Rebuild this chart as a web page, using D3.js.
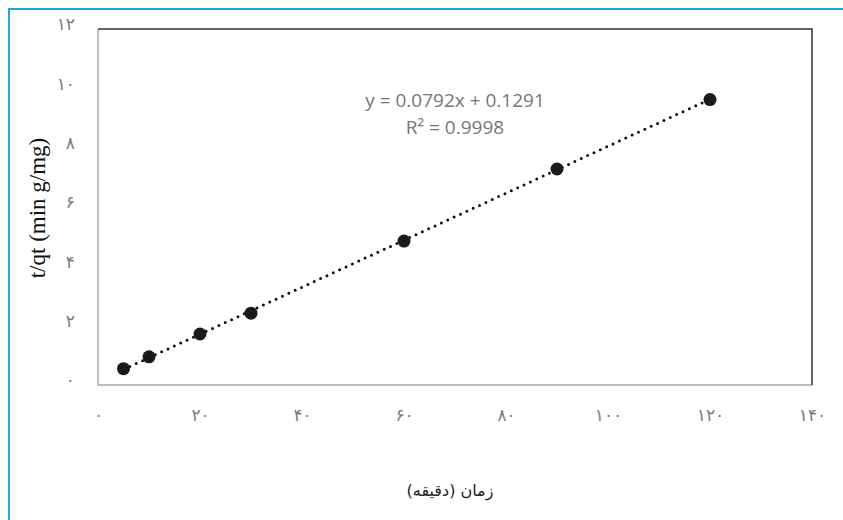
<!DOCTYPE html>
<html>
<head>
<meta charset="utf-8">
<script src="https://cdn.jsdelivr.net/npm/d3@7"></script>
<style>
  body { margin: 0; background: #fff; }
  svg { display: block; }
</style>
</head>
<body>
<svg width="843" height="520"></svg>
<script>
// time (min) and t/qt values
const times = [5, 10, 20, 30, 60, 90, 120];
const tq = [0.55, 0.95, 1.72, 2.42, 4.85, 7.28, 9.62];
const xTicks = [0, 20, 40, 60, 80, 100, 120, 140];
const yTicks = [0, 2, 4, 6, 8, 10, 12];
const slope = 0.0792, intercept = 0.1291;
const eqLines = ["y = 0.0792x + 0.1291", "R² = 0.9998"];

const faDigits = n => String(n).replace(/\d/g, d => "۰۱۲۳۴۵۶۷۸۹"[d]);

const svg = d3.select("svg");
const margin = {left: 98, top: 29, right: 31, bottom: 135};
const width = 843 - margin.left - margin.right;
const height = 520 - margin.top - margin.bottom;

// blue page frame
svg.append("path")
  .attr("d", "M9,520 V9 H843")
  .attr("fill", "none")
  .attr("stroke", "#1ba9e1")
  .attr("stroke-width", 2);

const chart = svg.append("g")
  .attr("transform", `translate(${margin.left},${margin.top})`);

const x = d3.scaleLinear().domain([0, 140]).range([0, width]);
const y = d3.scaleLinear().domain([0, 12]).range([height, 0]);

// plot box: light left/bottom, dark top/right
chart.append("path")
  .attr("d", `M0,0 V${height} H${width}`)
  .attr("fill", "none").attr("stroke", "#bdbdbd").attr("stroke-width", 2);
chart.append("path")
  .attr("d", `M0,0 H${width} V${height}`)
  .attr("fill", "none").attr("stroke", "#333").attr("stroke-width", 1.5);

const xAxis = chart.append("g")
  .attr("transform", `translate(0,${height})`)
  .call(d3.axisBottom(x).tickValues(xTicks).tickSize(0).tickPadding(24).tickFormat(faDigits));
xAxis.select(".domain").remove();
xAxis.selectAll(".tick text")
  .attr("font-family", "DejaVu Sans")
  .attr("font-size", 17)
  .attr("fill", "#7a7a7a");

const yAxis = chart.append("g")
  .call(d3.axisLeft(y).tickValues(yTicks).tickSize(0).tickPadding(23).tickFormat(faDigits));
yAxis.select(".domain").remove();
yAxis.selectAll(".tick text")
  .attr("font-family", "DejaVu Sans")
  .attr("font-size", 17)
  .attr("fill", "#7a7a7a")
  .attr("dy", "0.05em");

// trendline
const x0 = d3.min(times), x1 = d3.max(times);
chart.append("line")
  .attr("x1", x(x0)).attr("y1", y(slope * x0 + intercept))
  .attr("x2", x(x1)).attr("y2", y(slope * x1 + intercept))
  .attr("stroke", "#111")
  .attr("stroke-width", 3)
  .attr("stroke-linecap", "round")
  .attr("stroke-dasharray", "0 7");

chart.selectAll("circle")
  .data(times)
  .join("circle")
  .attr("cx", d => x(d))
  .attr("cy", (d, i) => y(tq[i]))
  .attr("r", 6.5)
  .attr("fill", "#1a1a1a");

chart.append("text")
  .attr("x", 357).attr("y", 78)
  .attr("text-anchor", "middle")
  .attr("font-family", "Open Sans")
  .attr("font-size", 19)
  .attr("fill", "#777")
  .selectAll("tspan")
  .data(eqLines)
  .join("tspan")
  .attr("x", 357)
  .attr("dy", (d, i) => i ? 27 : 0)
  .text(d => d);

svg.append("text")
  .attr("transform", "translate(45,208) rotate(-90)")
  .attr("text-anchor", "middle")
  .attr("font-family", "Liberation Serif")
  .attr("font-size", 23)
  .attr("fill", "#111")
  .text("t/qt (min g/mg)");

svg.append("text")
  .attr("x", 450).attr("y", 496)
  .attr("text-anchor", "middle")
  .attr("font-family", "DejaVu Sans")
  .attr("font-size", 16)
  .attr("fill", "#222")
  .text("زمان (دقیقه)");
</script>
</body>
</html>
